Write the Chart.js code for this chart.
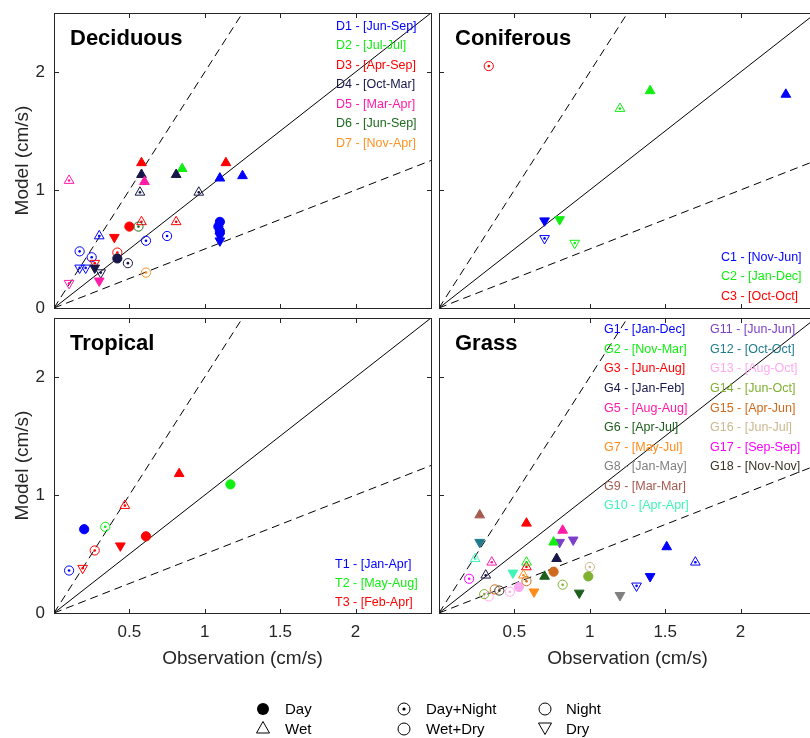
<!DOCTYPE html>
<html>
<head>
<meta charset="utf-8">
<title>Model vs observation</title>
<script src="https://cdn.jsdelivr.net/npm/chart.js@4.4.1/dist/chart.umd.min.js"></script>
<style>
  html, body { margin: 0; padding: 0; background: #fff; }
  #page { position: relative; width: 810px; height: 738px; overflow: hidden; }
  #page canvas { position: absolute; }
  .key { position: absolute; font: 15px 'Liberation Sans', Arial, sans-serif; line-height: 18px; color: #000; white-space: nowrap; }
</style>
</head>
<body>
<div id="page">
  <canvas id="decid" width="435" height="313" style="left:0px;top:9px"></canvas>
  <canvas id="conif" width="385" height="313" style="left:435px;top:9px"></canvas>
  <canvas id="trop" width="435" height="359" style="left:0px;top:314px"></canvas>
  <canvas id="grass" width="385" height="359" style="left:435px;top:314px"></canvas>

  <!-- marker key under the panels -->
  <svg width="810" height="738" style="position:absolute;left:0;top:0">
    <circle cx="263" cy="709" r="6" fill="#000"/>
    <polygon points="263,721.5 256.5,733 269.5,733" fill="none" stroke="#000"/>
    <circle cx="404" cy="709" r="6" fill="none" stroke="#000"/>
    <circle cx="404" cy="709" r="1.6" fill="#000"/>
    <circle cx="404" cy="729" r="6" fill="none" stroke="#000"/>
    <circle cx="545" cy="709" r="6" fill="none" stroke="#000"/>
    <polygon points="538.5,723 551.5,723 545,734.5" fill="none" stroke="#000"/>
  </svg>
  <div class="key" style="left:285px;top:700px">Day</div>
  <div class="key" style="left:285px;top:720px">Wet</div>
  <div class="key" style="left:426px;top:700px">Day+Night</div>
  <div class="key" style="left:426px;top:720px">Wet+Dry</div>
  <div class="key" style="left:566px;top:700px">Night</div>
  <div class="key" style="left:566px;top:720px">Dry</div>
</div>

<script>
'use strict';

// sites and sampling periods of each panel
var decidSites = ['D1', 'D2', 'D3', 'D4', 'D5', 'D6', 'D7'];
var decidPeriods = ['Jun-Sep', 'Jul-Jul', 'Apr-Sep', 'Oct-Mar', 'Mar-Apr', 'Jun-Sep', 'Nov-Apr'];
var conifSites = ['C1', 'C2', 'C3'];
var conifPeriods = ['Nov-Jun', 'Jan-Dec', 'Oct-Oct'];
var tropSites = ['T1', 'T2', 'T3'];
var tropPeriods = ['Jan-Apr', 'May-Aug', 'Feb-Apr'];
var grassSites = ['G1', 'G2', 'G3', 'G4', 'G5', 'G6', 'G7', 'G8', 'G9', 'G10',
                  'G11', 'G12', 'G13', 'G14', 'G15', 'G16', 'G17', 'G18'];
var grassPeriods = ['Jan-Dec', 'Nov-Mar', 'Jun-Aug', 'Jan-Feb', 'Aug-Aug', 'Apr-Jul', 'May-Jul', 'Jan-May', 'Mar-Mar', 'Apr-Apr',
                    'Jun-Jun', 'Oct-Oct', 'Aug-Oct', 'Jun-Oct', 'Apr-Jun', 'Jun-Jul', 'Sep-Sep', 'Nov-Nov'];

// colours of the sites
var decidColors = ['#0000ff', '#11ee11', '#ff0000', '#16164a', '#ff1aa8', '#1d6a1d', '#ff9224'];
var conifColors = ['#0000ff', '#11ee11', '#ff0000'];
var tropColors = ['#0000ff', '#11ee11', '#ff0000'];
var grassColors = ['#0000ff', '#11ee11', '#ff0000', '#16164a', '#ff1aa8', '#1d5e1d', '#ff8c1a', '#808080', '#a55a50', '#40f5b5',
                   '#7d3fc8', '#1f7c8c', '#ffaaf0', '#7fb030', '#d06a1c', '#cbb88e', '#ff00ff', '#3b3425'];

// points: [site, observation, model, season, time]
// season: wet = up triangle, dry = down triangle, wd = circle
// time: day = filled, dn = dot inside, night = open
var decidPoints = [
  ['D5', 0.10, 1.08, 'wet', 'dn'],
  ['D3', 0.58, 1.23, 'wet', 'day'],
  ['D4', 0.58, 1.13, 'wet', 'day'],
  ['D5', 0.60, 1.07, 'wet', 'day'],
  ['D4', 0.57, 0.98, 'wet', 'dn'],
  ['D2', 0.85, 1.18, 'wet', 'day'],
  ['D4', 0.81, 1.13, 'wet', 'day'],
  ['D3', 1.14, 1.23, 'wet', 'day'],
  ['D1', 1.10, 1.10, 'wet', 'day'],
  ['D1', 1.25, 1.12, 'wet', 'day'],
  ['D4', 0.96, 0.98, 'wet', 'dn'],
  ['D3', 0.58, 0.73, 'wet', 'dn'],
  ['D3', 0.81, 0.73, 'wet', 'dn'],
  ['D3', 0.50, 0.69, 'wd', 'day'],
  ['D6', 0.56, 0.69, 'wd', 'dn'],
  ['D1', 1.10, 0.73, 'wd', 'day'],
  ['D1', 1.09, 0.69, 'wd', 'day'],
  ['D1', 1.10, 0.65, 'wd', 'day'],
  ['D1', 1.10, 0.61, 'dry', 'day'],
  ['D1', 1.10, 0.57, 'dry', 'day'],
  ['D1', 0.30, 0.61, 'wet', 'dn'],
  ['D3', 0.40, 0.60, 'dry', 'day'],
  ['D1', 0.61, 0.57, 'wd', 'dn'],
  ['D1', 0.75, 0.61, 'wd', 'dn'],
  ['D1', 0.17, 0.48, 'wd', 'dn'],
  ['D1', 0.25, 0.43, 'wd', 'dn'],
  ['D3', 0.42, 0.47, 'wd', 'dn'],
  ['D4', 0.42, 0.42, 'wd', 'day'],
  ['D4', 0.49, 0.38, 'wd', 'dn'],
  ['D1', 0.17, 0.34, 'dry', 'dn'],
  ['D1', 0.21, 0.34, 'dry', 'dn'],
  ['D3', 0.27, 0.38, 'dry', 'dn'],
  ['D4', 0.27, 0.34, 'dry', 'day'],
  ['D4', 0.31, 0.30, 'dry', 'dn'],
  ['D5', 0.30, 0.23, 'dry', 'day'],
  ['D5', 0.10, 0.21, 'dry', 'dn'],
  ['D7', 0.61, 0.30, 'wd', 'dn']
];

var conifPoints = [
  ['C3', 0.33, 2.05, 'wd', 'dn'],
  ['C2', 1.40, 1.84, 'wet', 'day'],
  ['C1', 2.30, 1.81, 'wet', 'day'],
  ['C2', 1.20, 1.69, 'wet', 'dn'],
  ['C1', 0.70, 0.74, 'dry', 'day'],
  ['C2', 0.80, 0.75, 'dry', 'day'],
  ['C1', 0.70, 0.59, 'dry', 'dn'],
  ['C2', 0.90, 0.55, 'dry', 'dn']
];

var tropPoints = [
  ['T3', 0.83, 1.18, 'wet', 'day'],
  ['T2', 1.17, 1.09, 'wd', 'day'],
  ['T3', 0.47, 0.91, 'wet', 'dn'],
  ['T1', 0.20, 0.71, 'wd', 'day'],
  ['T2', 0.34, 0.73, 'wd', 'dn'],
  ['T3', 0.44, 0.57, 'dry', 'day'],
  ['T3', 0.61, 0.65, 'wd', 'day'],
  ['T3', 0.27, 0.53, 'wd', 'dn'],
  ['T1', 0.10, 0.36, 'wd', 'dn'],
  ['T3', 0.19, 0.38, 'dry', 'dn']
];

var grassPoints = [
  ['G9', 0.27, 0.83, 'wet', 'day'],
  ['G12', 0.27, 0.60, 'dry', 'day'],
  ['G3', 0.58, 0.76, 'wet', 'day'],
  ['G5', 0.82, 0.70, 'wet', 'day'],
  ['G11', 0.80, 0.60, 'dry', 'day'],
  ['G11', 0.89, 0.62, 'dry', 'day'],
  ['G2', 0.76, 0.60, 'wet', 'day'],
  ['G1', 1.51, 0.56, 'wet', 'day'],
  ['G1', 1.70, 0.43, 'wet', 'dn'],
  ['G1', 1.40, 0.31, 'dry', 'day'],
  ['G1', 1.31, 0.23, 'dry', 'dn'],
  ['G10', 0.24, 0.46, 'wet', 'dn'],
  ['G5', 0.35, 0.43, 'wet', 'dn'],
  ['G4', 0.31, 0.32, 'wet', 'dn'],
  ['G17', 0.20, 0.29, 'wd', 'dn'],
  ['G2', 0.58, 0.43, 'wet', 'dn'],
  ['G3', 0.58, 0.39, 'wet', 'dn'],
  ['G10', 0.49, 0.34, 'dry', 'day'],
  ['G7', 0.56, 0.32, 'wet', 'dn'],
  ['G15', 0.58, 0.27, 'wd', 'dn'],
  ['G15', 0.76, 0.35, 'wd', 'day'],
  ['G4', 0.78, 0.46, 'wet', 'day'],
  ['G6', 0.70, 0.31, 'wet', 'day'],
  ['G16', 1.00, 0.39, 'wd', 'dn'],
  ['G14', 0.99, 0.31, 'wd', 'day'],
  ['G14', 0.82, 0.24, 'wd', 'dn'],
  ['G6', 0.93, 0.17, 'dry', 'day'],
  ['G8', 1.20, 0.15, 'dry', 'day'],
  ['G7', 0.63, 0.18, 'dry', 'day'],
  ['G13', 0.53, 0.22, 'wd', 'day'],
  ['G13', 0.47, 0.18, 'wd', 'dn'],
  ['G13', 0.33, 0.14, 'wd', 'night'],
  ['G14', 0.30, 0.16, 'wd', 'dn'],
  ['G15', 0.37, 0.20, 'wd', 'night'],
  ['G18', 0.40, 0.19, 'wd', 'dn']
];

// reference lines: 1:1 solid, 2:1 and 1:2 dashed
var refSlopes = [1, 2, 0.5];

var axisMax = 2.5;
var font = "'Liberation Sans', Arial, sans-serif";
var inkColor = '#262626';

// draws box, inside ticks, panel title and site list
var panelPlugin = {
  id: 'panel',
  afterDatasetsDraw: function(chart, args, opts) {
    var ctx = chart.ctx;
    var a = chart.chartArea;
    var xs = chart.scales.x;
    var ys = chart.scales.y;
    ctx.save();
    ctx.strokeStyle = inkColor;
    ctx.lineWidth = 1;
    ctx.strokeRect(a.left + 0.5, a.top + 0.5, a.right - a.left, a.bottom - a.top);

    ctx.beginPath();
    xs.ticks.forEach(function(t) {
      if (t.value <= xs.min || t.value >= xs.max) return;
      var px = Math.round(xs.getPixelForValue(t.value)) + 0.5;
      ctx.moveTo(px, a.bottom); ctx.lineTo(px, a.bottom - 4);
      ctx.moveTo(px, a.top + 1); ctx.lineTo(px, a.top + 5);
    });
    ys.ticks.forEach(function(t) {
      if (t.value <= ys.min || t.value >= ys.max) return;
      var py = Math.round(ys.getPixelForValue(t.value)) + 0.5;
      ctx.moveTo(a.left + 1, py); ctx.lineTo(a.left + 5, py);
      ctx.moveTo(a.right, py); ctx.lineTo(a.right - 4, py);
    });
    ctx.stroke();

    ctx.fillStyle = '#000';
    ctx.textBaseline = 'alphabetic';
    ctx.textAlign = 'left';
    ctx.font = 'bold 22px ' + font;
    ctx.fillText(opts.title, a.left + opts.titleX, a.top + opts.titleY);

    ctx.font = '12.5px ' + font;
    opts.labels.forEach(function(lab, i) {
      var col = Math.floor(i / opts.perCol);
      var row = i % opts.perCol;
      ctx.fillStyle = opts.colors[i];
      ctx.fillText(lab, a.left + opts.keyX[col], a.top + opts.keyY + row * opts.keyDy);
    });
    ctx.restore();
  }
};

// fixed axis sizes so that every panel has the same plot box
function fixSize(s, size) {
  if (s.isHorizontal()) s.height = size; else s.width = size;
  s.paddingTop = 0;
  s.paddingBottom = 0;
  s.paddingLeft = 0;
  s.paddingRight = 0;
}

function makePanel(id, sites, periods, colors, points, showX, showY, key) {
  var colorOf = function(site) { return colors[sites.indexOf(site)]; };

  var markers = points.map(function(p) {
    return { x: p[1], y: p[2], site: p[0], season: p[3], time: p[4] };
  });
  var dots = markers.filter(function(m) { return m.time === 'dn'; });

  var datasets = [];
  refSlopes.forEach(function(m) {
    var xEnd = Math.min(axisMax, axisMax / m);
    datasets.push({
      type: 'line',
      data: [{ x: 0, y: 0 }, { x: xEnd, y: xEnd * m }],
      borderColor: '#000',
      borderWidth: 1,
      borderDash: m === 1 ? [] : [8, 5],
      pointRadius: 0,
      order: 10
    });
  });

  datasets.push({
    data: markers,
    order: 2,
    pointStyle: function(c) { return c.raw && c.raw.season !== 'wd' ? 'triangle' : 'circle'; },
    rotation: function(c) { return c.raw && c.raw.season === 'dry' ? 180 : 0; },
    pointRadius: function(c) { return c.raw && c.raw.season !== 'wd' ? 5.6 : 4.6; },
    borderColor: function(c) { return c.raw ? colorOf(c.raw.site) : '#000'; },
    backgroundColor: function(c) {
      return c.raw && c.raw.time === 'day' ? colorOf(c.raw.site) : 'rgba(0,0,0,0)';
    },
    pointBorderWidth: 1
  });

  datasets.push({
    data: dots,
    order: 1,
    pointStyle: 'circle',
    pointRadius: 1.3,
    pointBorderWidth: 0,
    backgroundColor: function(c) { return c.raw ? colorOf(c.raw.site) : '#000'; },
    borderColor: 'rgba(0,0,0,0)'
  });

  var labels = sites.map(function(s, i) { return s + ' - [' + periods[i] + ']'; });

  return new Chart(document.getElementById(id), {
    type: 'scatter',
    data: { datasets: datasets },
    plugins: [panelPlugin],
    options: {
      responsive: false,
      animation: false,
      events: [],
      layout: { autoPadding: false, padding: { top: 4, right: 4, left: 0, bottom: 0 } },
      plugins: {
        legend: { display: false },
        tooltip: { enabled: false },
        panel: {
          title: key.title,
          titleX: key.titleX, titleY: key.titleY,
          labels: labels, colors: colors,
          keyX: key.keyX, keyY: key.keyY, keyDy: key.keyDy, perCol: key.perCol
        }
      },
      scales: {
        x: {
          type: 'linear', min: 0, max: axisMax,
          grid: { display: false, drawTicks: false },
          border: { display: false },
          ticks: {
            display: showX, stepSize: 0.5, padding: 9,
            color: inkColor, font: { family: font, size: 17 },
            callback: function(v) { return (v === 0 || v === axisMax) ? '' : String(v); }
          },
          title: {
            display: showX, text: 'Observation (cm/s)', color: inkColor,
            font: { family: font, size: 19 }, padding: { top: 0, bottom: 3 }
          },
          afterFit: function(s) { fixSize(s, showX ? 60 : 14); }
        },
        y: {
          type: 'linear', min: 0, max: axisMax,
          grid: { display: false, drawTicks: false },
          border: { display: false },
          ticks: {
            display: showY, stepSize: 1, padding: 9,
            color: inkColor, font: { family: font, size: 17 },
            callback: function(v) { return v % 1 === 0 ? String(v) : ''; }
          },
          title: {
            display: showY, text: 'Model (cm/s)', color: inkColor,
            font: { family: font, size: 19 }, padding: { top: 11, bottom: 0 }
          },
          afterFit: function(s) { fixSize(s, showY ? 54 : 4); }
        }
      }
    }
  });
}

makePanel('decid', decidSites, decidPeriods, decidColors, decidPoints, false, true,
  { title: 'Deciduous', titleX: 16, titleY: 32, keyX: [282], keyY: 17, keyDy: 19.45, perCol: 7 });
makePanel('conif', conifSites, conifPeriods, conifColors, conifPoints, false, false,
  { title: 'Coniferous', titleX: 16, titleY: 32, keyX: [282], keyY: 248, keyDy: 19.3, perCol: 3 });
makePanel('trop', tropSites, tropPeriods, tropColors, tropPoints, true, true,
  { title: 'Tropical', titleX: 16, titleY: 32, keyX: [281], keyY: 250, keyDy: 19.2, perCol: 3 });
makePanel('grass', grassSites, grassPeriods, grassColors, grassPoints, true, false,
  { title: 'Grass', titleX: 16, titleY: 32, keyX: [165, 271], keyY: 15.3, keyDy: 19.55, perCol: 10 });
</script>
</body>
</html>
